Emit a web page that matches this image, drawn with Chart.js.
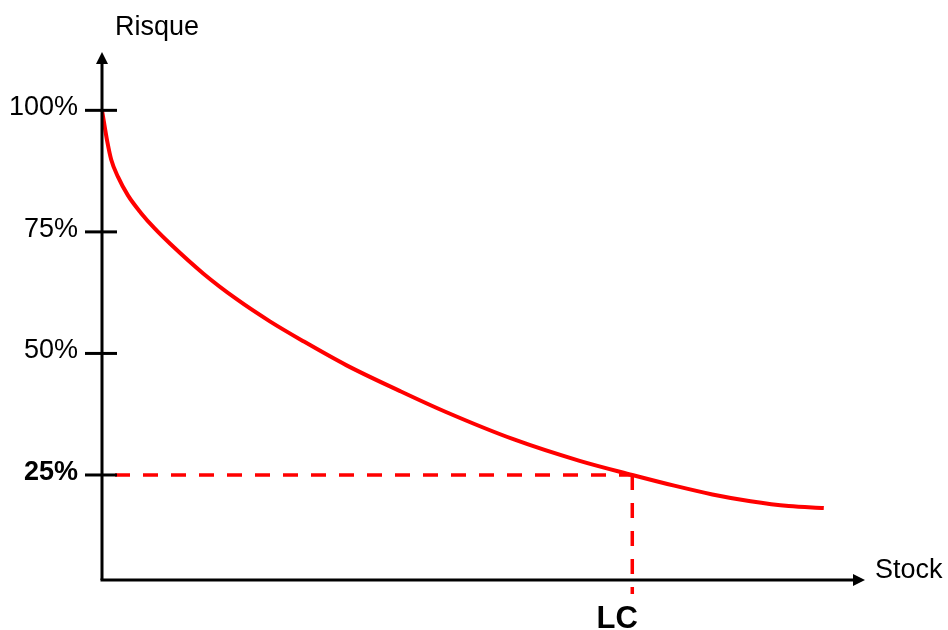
<!DOCTYPE html>
<html>
<head>
<meta charset="utf-8">
<script src="https://cdn.jsdelivr.net/npm/chart.js@4/dist/chart.umd.min.js"></script>
<style>
  html, body { margin: 0; padding: 0; background: #fff; }
  canvas { display: block; }
</style>
</head>
<body>
<canvas id="chart" width="948" height="630"></canvas>
<script>
// courbe risque / stock
const stock  = [0, 0.7, 1.2, 2.1, 3.4, 5.1, 6.9, 8.9, 13.3, 17.7, 22, 26.4, 32, 39, 45, 54, 62.6, 69.5, 75, 80, 85, 90, 94.6];
const risque = [100, 93.5, 89.9, 86.3, 82.5, 78.9, 75.7, 72.6, 66.4, 61.1, 56.6, 52.5, 47.6, 42.3, 38, 32.3, 27.9, 25, 22.8, 21, 19.6, 18.6, 18.2];

// graduations de l'axe Y
const tickValues = [100, 75, 50, 25];
const tickLabels = ["100%", "75%", "50%", "25%"];

// point LC
const lcStock = 69.5;
const lcRisque = 25;
const lcLabel = "LC";

const xTitle = "Stock";
const yTitle = "Risque";

const FONT = "'Liberation Sans', Arial, sans-serif";

/* axes, fleches, textes */
const axesPlugin = {
  id: "axes",
  afterDatasetsDraw(chart) {
    const ctx = chart.ctx;
    const xs = chart.scales.x, ys = chart.scales.y;
    const a = chart.chartArea;
    const x0 = xs.getPixelForValue(0);
    const yb = a.bottom;

    ctx.save();
    ctx.strokeStyle = "#000";
    ctx.fillStyle = "#000";
    ctx.lineWidth = 3;

    // axe Y
    ctx.beginPath();
    ctx.moveTo(x0, yb);
    ctx.lineTo(x0, a.top + 8);
    ctx.stroke();
    ctx.beginPath();
    ctx.moveTo(x0, a.top);
    ctx.lineTo(x0 - 6, a.top + 12);
    ctx.lineTo(x0 + 6, a.top + 12);
    ctx.closePath();
    ctx.fill();

    // axe X
    ctx.beginPath();
    ctx.moveTo(x0 - 1.5, yb);
    ctx.lineTo(a.right - 8, yb);
    ctx.stroke();
    ctx.beginPath();
    ctx.moveTo(a.right, yb);
    ctx.lineTo(a.right - 12, yb - 6);
    ctx.lineTo(a.right - 12, yb + 6);
    ctx.closePath();
    ctx.fill();

    // graduations
    ctx.textAlign = "right";
    ctx.textBaseline = "alphabetic";
    tickValues.forEach((v, i) => {
      const py = ys.getPixelForValue(v);
      ctx.beginPath();
      ctx.moveTo(x0 - 17, py);
      ctx.lineTo(x0 + 15, py);
      ctx.stroke();
      ctx.font = (v === lcRisque ? "bold " : "") + "27px " + FONT;
      ctx.fillText(tickLabels[i], x0 - 24, py + 5);
    });

    // titres
    ctx.textAlign = "left";
    ctx.font = "27px " + FONT;
    ctx.fillText(yTitle, 115, 35);
    ctx.fillText(xTitle, a.right + 10, yb - 2);

    // LC
    ctx.textAlign = "center";
    ctx.font = "bold 31px " + FONT;
    ctx.fillText(lcLabel, xs.getPixelForValue(lcStock) - 15, 628);

    ctx.restore();
  }
};

new Chart(document.getElementById("chart"), {
  type: "line",
  data: {
    datasets: [
      {
        data: stock.map((s, i) => ({ x: s, y: risque[i] })),
        borderColor: "#ff0000",
        borderWidth: 4,
        pointRadius: 0,
        cubicInterpolationMode: "monotone",
        fill: false
      },
      {
        data: [{ x: 0, y: lcRisque }, { x: lcStock, y: lcRisque }],
        borderColor: "#ff0000",
        borderWidth: 3.5,
        borderDash: [15, 13],
        borderDashOffset: 15,
        pointRadius: 0
      },
      {
        data: [{ x: lcStock, y: lcRisque }, { x: lcStock, y: 0.5 }],
        borderColor: "#ff0000",
        borderWidth: 3.5,
        borderDash: [15, 13],
        pointRadius: 0,
        clip: false
      }
    ]
  },
  options: {
    responsive: false,
    animation: false,
    layout: { padding: { left: 102, right: 83, top: 52, bottom: 50 } },
    plugins: { legend: { display: false }, tooltip: { enabled: false } },
    scales: {
      x: { type: "linear", min: 0, max: 100, display: false },
      y: { type: "linear", min: 3.4, max: 112, display: false }
    }
  },
  plugins: [axesPlugin]
});
</script>
</body>
</html>
